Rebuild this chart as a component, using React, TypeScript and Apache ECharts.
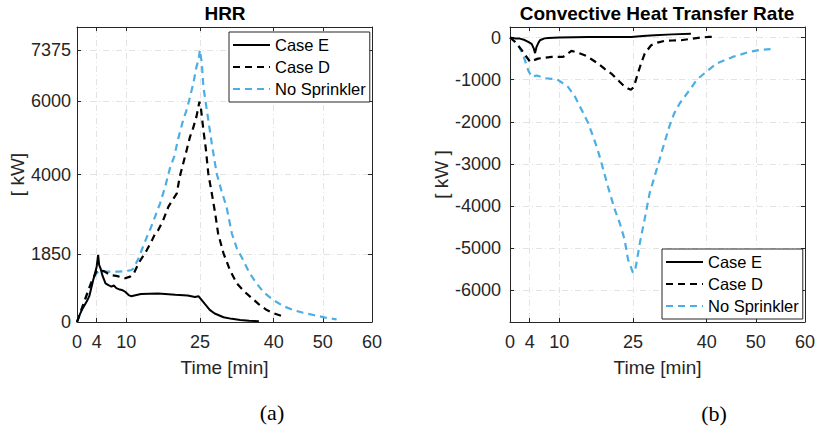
import React, { useEffect, useRef } from 'react';
import * as echarts from 'echarts';

// ---------- Tick values ----------
const xTicks = [0, 4, 10, 25, 40, 50, 60];
const hrrTicks = [0, 1850, 4000, 6000, 7375];
const convTicks = [-6000, -5000, -4000, -3000, -2000, -1000, 0];
const seriesNames = ['Case E', 'Case D', 'No Sprinkler'];

// ---------- HRR (a) ----------
const hrrETime = [0, 0.5, 1, 2, 2.5, 3.3, 4.0, 4.3, 4.5, 4.8, 5.2, 5.8, 6.4, 7.0, 7.5, 8.0, 8.7, 9.3, 9.8, 10.5, 11, 13, 16.5, 20, 22.5, 24, 24.7, 26, 27, 28, 29.8, 31.5, 33.2, 35, 37];
const hrrEValue = [0, 180, 330, 560, 700, 1140, 1500, 1820, 1550, 1450, 1250, 1050, 1000, 960, 990, 920, 880, 860, 820, 730, 700, 760, 770, 740, 720, 680, 700, 490, 330, 230, 130, 85, 55, 35, 20];

const hrrDTime = [0, 1, 2, 3, 4, 4.5, 5.5, 6.7, 8, 9.8, 10.8, 11.5, 12.5, 13.5, 14.2, 15.2, 15.9, 16.5, 17.5, 18.6, 19.4, 20.3, 20.9, 21.6, 22.3, 23, 23.6, 24.3, 24.9, 25.2, 25.7, 26.2, 26.7, 27.4, 28.1, 28.7, 29.8, 31.1, 32.5, 34, 35.2, 37, 38.6, 40, 41.6];
const hrrDValue = [0, 370, 740, 1100, 1380, 1400, 1380, 1275, 1250, 1185, 1230, 1300, 1590, 1800, 1950, 2200, 2400, 2490, 2750, 3130, 3300, 3490, 3940, 4300, 4660, 5030, 5250, 5570, 5975, 5800, 5210, 4700, 4030, 3500, 2950, 2400, 1860, 1410, 1050, 830, 690, 480, 325, 240, 163];

const hrrNTime = [0, 1, 2, 3, 4, 4.5, 5.7, 7, 8.4, 10, 11.1, 11.5, 12.5, 13.3, 14.2, 15, 16, 16.9, 17.9, 18.9, 19.8, 20.6, 21.6, 22.3, 23, 23.7, 24.3, 24.7, 25, 25.4, 25.7, 26.4, 27.4, 28.4, 29.4, 30.4, 31.5, 32.5, 33.8, 35, 36.5, 38, 39.9, 42, 44, 46, 48.1, 50.5, 52.8];
const hrrNValue = [0, 380, 760, 1120, 1330, 1365, 1365, 1365, 1365, 1380, 1410, 1455, 1720, 2000, 2300, 2550, 2900, 3220, 3650, 4170, 4500, 4980, 5480, 5750, 6110, 6500, 6920, 7100, 7375, 7000, 6380, 5750, 4850, 4030, 3550, 3130, 2400, 2000, 1680, 1350, 1050, 800, 600, 430, 325, 250, 190, 120, 73];

// ---------- Convective heat transfer rate (b) ----------
const convETime = [0, 1, 2, 3, 3.7, 4.4, 4.8, 5.1, 5.4, 5.8, 6.1, 7, 7.8, 10, 15.9, 20, 24.7, 27, 29.4, 33, 36.8];
const convEValue = [0, -20, -25, -60, -104, -150, -250, -370, -220, -120, -65, -20, -10, 0, 15, 15, 15, 35, 55, 75, 92];

const convDTime = [0, 1, 2.4, 3.3, 4.1, 4.8, 5.7, 7, 8.5, 10.8, 12.5, 13.8, 15.2, 16.5, 17.9, 19.2, 20.6, 22.3, 23.2, 24, 24.6, 25.2, 26, 26.7, 27.4, 28.7, 30, 31.4, 33, 34.8, 36.8, 38.9, 40.5, 42];
const convDValue = [0, -100, -300, -450, -577, -540, -500, -480, -460, -460, -317, -360, -420, -510, -617, -740, -855, -1050, -1150, -1210, -1240, -1170, -855, -600, -380, -183, -120, -80, -70, -65, -30, 0, 15, 15];

const convNTime = [0, 0.8, 1.7, 2.7, 3.7, 4.4, 5.5, 7.1, 8.5, 9.8, 11.8, 13.2, 14.5, 15.9, 16.9, 17.8, 18.6, 19.9, 21.3, 22.3, 23.3, 24, 24.6, 25, 25.4, 25.8, 26.4, 27.4, 28.4, 29.4, 30.4, 31.4, 32.4, 33.4, 34.5, 36.5, 38, 39.9, 42, 45.3, 48.7, 51, 53];
const convNValue = [0, -80, -183, -420, -775, -930, -900, -965, -980, -1010, -1170, -1400, -1700, -2030, -2345, -2650, -2975, -3530, -4080, -4395, -4790, -5265, -5450, -5580, -5550, -5300, -4880, -4300, -3695, -3300, -2905, -2500, -2115, -1800, -1565, -1250, -1000, -815, -617, -460, -340, -290, -277];

const FONT = '"Liberation Sans", Arial, Helvetica, sans-serif';
const TXT = '#262626';
const BLUE = '#4DAEE3';
const GRIDC = '#e3e3e3';
const TICK_FS = 18;
const NAME_FS = 19;

const pairs = (t: number[], v: number[]) => t.map((x, i) => [x, v[i]]);

const lineStyles = [
  { color: '#000000', width: 2, type: 'solid' as any },
  { color: '#000000', width: 2.2, type: [7, 5] as any },
  { color: BLUE, width: 2.2, type: [7, 5] as any },
];

const plain = (v: number) => String(v);

function makeX(gridIndex: number, position: 'bottom' | 'top', main: boolean) {
  return {
    type: 'value',
    gridIndex,
    position,
    min: 0,
    max: 60,
    name: main ? 'Time [min]' : '',
    nameLocation: 'middle',
    nameGap: 36,
    nameTextStyle: { fontSize: NAME_FS, color: TXT, fontFamily: FONT },
    axisLine: { show: true, onZero: false, lineStyle: { color: TXT, width: 1 } },
    axisTick: { show: true, inside: true, length: 4, customValues: xTicks, lineStyle: { color: TXT } },
    axisLabel: { show: main, customValues: xTicks, formatter: plain, margin: 11, fontSize: TICK_FS, color: TXT, fontFamily: FONT },
    splitLine: { show: main, lineStyle: { color: GRIDC, width: 1, type: [6, 3, 1, 3] } },
  };
}

function makeY(gridIndex: number, position: 'left' | 'right', main: boolean, ticks: number[], min: number, max: number, name: string, nameGap: number, labelMargin: number) {
  return {
    type: 'value',
    gridIndex,
    position,
    min,
    max,
    name: main ? name : '',
    nameLocation: 'middle',
    nameGap,
    nameTextStyle: { fontSize: NAME_FS, color: TXT, fontFamily: FONT },
    axisLine: { show: true, onZero: false, lineStyle: { color: TXT, width: 1 } },
    axisTick: { show: true, inside: true, length: 4, customValues: ticks, lineStyle: { color: TXT } },
    axisLabel: { show: main, customValues: ticks, formatter: plain, margin: labelMargin, fontSize: TICK_FS, color: TXT, fontFamily: FONT },
    splitLine: { show: main, lineStyle: { color: GRIDC, width: 1, type: [6, 3, 1, 3] } },
  };
}

function makeLegend(left: number, top: number) {
  return {
    left,
    top,
    orient: 'vertical',
    backgroundColor: '#ffffff',
    borderColor: TXT,
    borderWidth: 1,
    borderRadius: 0,
    padding: [3, 4, 3, 3],
    itemGap: 2,
    itemWidth: 37,
    itemHeight: 14,
    selectedMode: false,
    itemStyle: { opacity: 0 },
    textStyle: { fontSize: 16.5, color: '#000', fontFamily: FONT, lineHeight: 20 },
    data: seriesNames,
  };
}

export default function App() {
  const ref = useRef<HTMLDivElement>(null);
  useEffect(() => {
    document.body.style.margin = '0';
    if (!ref.current) return;
    const chart = echarts.init(ref.current, null, { renderer: 'svg' });
    const hrrData = [pairs(hrrETime, hrrEValue), pairs(hrrDTime, hrrDValue), pairs(hrrNTime, hrrNValue)];
    const convData = [pairs(convETime, convEValue), pairs(convDTime, convDValue), pairs(convNTime, convNValue)];
    const series: any[] = [];
    hrrData.forEach((d, i) => {
      series.push({
        type: 'line', name: seriesNames[i], xAxisIndex: 0, yAxisIndex: 0, data: d,
        showSymbol: false, symbol: 'none', lineStyle: lineStyles[i], itemStyle: { color: lineStyles[i].color }, z: 3 - i,
      });
    });
    convData.forEach((d, i) => {
      series.push({
        type: 'line', name: seriesNames[i], xAxisIndex: 2, yAxisIndex: 2, data: d,
        showSymbol: false, symbol: 'none', lineStyle: lineStyles[i], itemStyle: { color: lineStyles[i].color }, z: 3 - i,
      });
    });
    chart.setOption({
      animation: false,
      backgroundColor: '#ffffff',
      grid: [
        { left: 77, top: 27, width: 295, height: 295 },
        { left: 510, top: 27, width: 296, height: 295 },
      ],
      xAxis: [makeX(0, 'bottom', true), makeX(0, 'top', false), makeX(1, 'bottom', true), makeX(1, 'top', false)],
      yAxis: [
        makeY(0, 'left', true, hrrTicks, 0, 8000, '[ kW]', 50, 6),
        makeY(0, 'right', false, hrrTicks, 0, 8000, '', 0, 6),
        makeY(1, 'left', true, convTicks, -6750, 250, '[ kW ]', 56, 9),
        makeY(1, 'right', false, convTicks, -6750, 250, '', 0, 6),
      ],
      legend: [makeLegend(229, 32), makeLegend(662, 249)],
      graphic: [
        { type: 'text', x: 225, y: 13, style: { text: 'HRR', fontSize: 19, fontWeight: 'bold', fontFamily: FONT, fill: '#000', align: 'center', verticalAlign: 'middle' } },
        { type: 'text', x: 657, y: 13, style: { text: 'Convective Heat Transfer Rate', fontSize: 19, fontWeight: 'bold', fontFamily: FONT, fill: '#000', align: 'center', verticalAlign: 'middle' } },
        { type: 'text', x: 272, y: 412, style: { text: '(a)', fontSize: 22, fontFamily: '"Liberation Serif", "Times New Roman", serif', fill: '#000', align: 'center', verticalAlign: 'middle' } },
        { type: 'text', x: 714, y: 413, style: { text: '(b)', fontSize: 22, fontFamily: '"Liberation Serif", "Times New Roman", serif', fill: '#000', align: 'center', verticalAlign: 'middle' } },
      ],
      series,
    });
    return () => chart.dispose();
  }, []);
  return <div ref={ref} style={{ width: 818, height: 433 }} />;
}
